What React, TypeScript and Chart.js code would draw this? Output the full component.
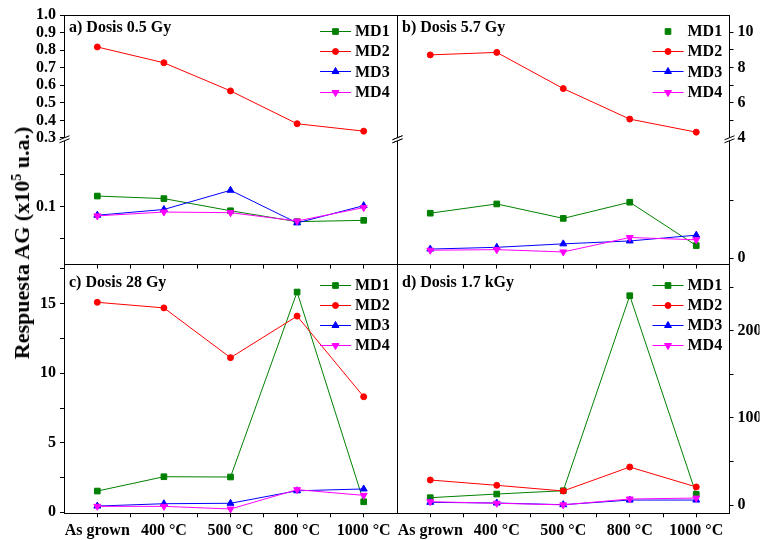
import React, { useEffect, useRef } from 'react';
import { Chart, registerables } from 'chart.js';
Chart.register(...registerables);

// ---------- data ----------
const categories = ['As grown', '400 °C', '500 °C', '800 °C', '1000 °C'];
const seriesNames = ['MD1', 'MD2', 'MD3', 'MD4'];

// a) Dosis 0.5 Gy
const aMD1 = [0.117, 0.113, 0.094, 0.077, 0.079];
const aMD2 = [0.818, 0.728, 0.568, 0.381, 0.339];
const aMD3 = [0.087, 0.096, 0.126, 0.075, 0.102];
const aMD4 = [0.086, 0.092, 0.091, 0.078, 0.099];

// b) Dosis 5.7 Gy
const bMD1 = [0.78, 0.94, 0.69, 0.97, 0.22];
const bMD2 = [8.72, 8.86, 6.81, 5.08, 4.34];
const bMD3 = [0.16, 0.19, 0.25, 0.3, 0.4];
const bMD4 = [0.14, 0.15, 0.11, 0.36, 0.32];

// c) Dosis 28 Gy
const cMD1 = [1.53, 2.56, 2.54, 15.84, 0.76];
const cMD2 = [15.1, 14.7, 11.12, 14.11, 8.31];
const cMD3 = [0.45, 0.62, 0.65, 1.55, 1.68];
const cMD4 = [0.43, 0.43, 0.24, 1.63, 1.22];

// d) Dosis 1.7 kGy
const dMD1 = [8.4, 12.6, 16.4, 240.2, 12.3];
const dMD2 = [28.7, 22.6, 16.1, 43.6, 20.7];
const dMD3 = [3.1, 2.3, 0.4, 5.7, 5.7];
const dMD4 = [3.8, 2.0, 0.2, 6.9, 8.0];

// ---------- ticks ----------
const xTicks = [0, 0.5, 1, 1.5, 2, 2.5, 3, 3.5, 4];
const aUpperTicks = [0.3, 0.4, 0.5, 0.6, 0.7, 0.8, 0.9, 1.0];
const aUpperLabels = ['0.3', '0.4', '0.5', '0.6', '0.7', '0.8', '0.9', '1.0'];
const aLowerTicks = [0.05, 0.1, 0.15];
const aLowerLabels = ['', '0.1', ''];
const bUpperTicks = [4, 5, 6, 7, 8, 9, 10];
const bUpperLabels = ['4', '', '6', '', '8', '', '10'];
const bLowerTicks = [0, 1];
const bLowerLabels = ['0', ''];
const cTicks = [0, 2.5, 5, 7.5, 10, 12.5, 15, 17.5];
const cLabels = ['0', '', '5', '', '10', '', '15', ''];
const dTicks = [0, 50, 100, 150, 200, 250];
const dLabels = ['0', '', '100', '', '200', ''];

// ---------- styles ----------
const colors = ['#008000', '#ff0000', '#0000ff', '#ff00ff'];
const pointStyles = ['rect', 'circle', 'triangle', 'triangle'];
const pointRots = [0, 0, 0, 180];
const pointRadii = [4, 3, 4, 4];
const FONT = '"Liberation Serif", "Times New Roman", serif';
const W = 761;
const H = 540;
const YW_LEFT = 60;
const YW_RIGHT = 30;
const XH = 26;

type Range = { min: number; max: number; ticks: number[]; labels: string[] };
type Panel = {
  key: string;
  rect: { l: number; t: number; r: number; b: number };
  side: 'left' | 'right';
  showX: boolean;
  title: string;
  titleDy: number;
  legendDy: number;
  legendLine: boolean[];
  series: number[][];
  upperSeries?: number;
  upper?: Range;
  lower?: Range;
  single?: Range;
};

const PANELS: Panel[] = [
  {
    key: 'a', rect: { l: 64, t: 15, r: 397, b: 264.5 }, side: 'left', showX: false,
    title: 'a) Dosis 0.5 Gy', titleDy: 17, legendDy: 16, legendLine: [true, true, true, true],
    series: [aMD1, aMD2, aMD3, aMD4], upperSeries: 1,
    upper: { min: 0.29, max: 1.0, ticks: aUpperTicks, labels: aUpperLabels },
    lower: { min: 0.01, max: 0.205, ticks: aLowerTicks, labels: aLowerLabels },
  },
  {
    key: 'b', rect: { l: 397, t: 15, r: 729.5, b: 264.5 }, side: 'right', showX: false,
    title: 'b) Dosis 5.7 Gy', titleDy: 17, legendDy: 16, legendLine: [false, true, true, true],
    series: [bMD1, bMD2, bMD3, bMD4], upperSeries: 1,
    upper: { min: 3.91, max: 10.98, ticks: bUpperTicks, labels: bUpperLabels },
    lower: { min: -0.107, max: 2.05, ticks: bLowerTicks, labels: bLowerLabels },
  },
  {
    key: 'c', rect: { l: 64, t: 264.5, r: 397, b: 513.3 }, side: 'left', showX: true,
    title: 'c) Dosis 28 Gy', titleDy: 22, legendDy: 20, legendLine: [true, true, true, true],
    series: [cMD1, cMD2, cMD3, cMD4],
    single: { min: -0.07, max: 17.82, ticks: cTicks, labels: cLabels },
  },
  {
    key: 'd', rect: { l: 397, t: 264.5, r: 729.5, b: 513.3 }, side: 'right', showX: true,
    title: 'd) Dosis 1.7 kGy', titleDy: 22, legendDy: 20, legendLine: [true, true, true, true],
    series: [dMD1, dMD2, dMD3, dMD4],
    single: { min: -9.5, max: 276, ticks: dTicks, labels: dLabels },
  },
];

function drawMarker(ctx: CanvasRenderingContext2D, i: number, x: number, y: number) {
  const r = pointRadii[i];
  ctx.save();
  ctx.fillStyle = colors[i];
  ctx.strokeStyle = colors[i];
  ctx.lineWidth = 1;
  ctx.beginPath();
  if (pointStyles[i] === 'rect') {
    const s = r * Math.SQRT1_2;
    ctx.rect(x - s, y - s, 2 * s, 2 * s);
  } else if (pointStyles[i] === 'circle') {
    ctx.arc(x, y, r, 0, Math.PI * 2);
  } else if (pointRots[i] === 180) {
    ctx.moveTo(x, y + r);
    ctx.lineTo(x - 0.866 * r, y - 0.5 * r);
    ctx.lineTo(x + 0.866 * r, y - 0.5 * r);
    ctx.closePath();
  } else {
    ctx.moveTo(x, y - r);
    ctx.lineTo(x + 0.866 * r, y + 0.5 * r);
    ctx.lineTo(x - 0.866 * r, y + 0.5 * r);
    ctx.closePath();
  }
  ctx.fill();
  ctx.stroke();
  ctx.restore();
}

function drawBreak(ctx: CanvasRenderingContext2D, x: number, y: number) {
  ctx.save();
  ctx.fillStyle = '#fff';
  ctx.beginPath();
  ctx.moveTo(x - 5, y);
  ctx.lineTo(x + 5, y - 4);
  ctx.lineTo(x + 5, y - 1);
  ctx.lineTo(x - 5, y + 3);
  ctx.closePath();
  ctx.fill();
  ctx.strokeStyle = '#000';
  ctx.lineWidth = 1;
  ctx.beginPath();
  ctx.moveTo(x - 5, y);
  ctx.lineTo(x + 5, y - 4);
  ctx.moveTo(x - 5, y + 3);
  ctx.lineTo(x + 5, y - 1);
  ctx.stroke();
  ctx.restore();
}

function decorPlugin(p: Panel) {
  const al = (v: number) => Math.floor(v) + 0.5;
  return {
    id: 'decor_' + p.key,
    beforeDatasetsDraw(chart: any) {
      const { left, top, right, bottom } = chart.chartArea;
      const ctx = chart.ctx as CanvasRenderingContext2D;
      ctx.save();
      ctx.strokeStyle = '#000';
      ctx.lineWidth = 1;
      ctx.strokeRect(al(left), al(top), al(right) - al(left), al(bottom) - al(top));
      ctx.restore();
    },
    afterDatasetsDraw(chart: any) {
      const { left, top, right } = chart.chartArea;
      const ctx = chart.ctx as CanvasRenderingContext2D;
      if (p.upper) {
        const yb = chart.scales.yU.bottom;
        drawBreak(ctx, al(left), yb);
        drawBreak(ctx, al(right), yb);
      }
      // title
      ctx.save();
      ctx.fillStyle = '#000';
      ctx.font = `bold 16px ${FONT}`;
      ctx.textBaseline = 'alphabetic';
      ctx.textAlign = 'left';
      ctx.fillText(p.title, left + 5, top + p.titleDy);
      // legend
      ctx.font = `bold 16px ${FONT}`;
      ctx.textBaseline = 'middle';
      seriesNames.forEach((name, i) => {
        const y = top + p.legendDy + i * 20.2;
        if (p.legendLine[i]) {
          ctx.strokeStyle = colors[i];
          ctx.lineWidth = 1;
          ctx.beginPath();
          ctx.moveTo(right - 77, Math.round(y) + 0.5);
          ctx.lineTo(right - 46, Math.round(y) + 0.5);
          ctx.stroke();
        }
        drawMarker(ctx, i, right - 61.5, Math.round(y) + 0.5);
        ctx.fillStyle = '#000';
        ctx.fillText(name, right - 42, y + 1);
      });
      ctx.restore();
    },
  };
}

function yScale(p: Panel, rg: Range, extra: any) {
  return {
    type: 'linear',
    position: p.side,
    min: rg.min,
    max: rg.max,
    afterBuildTicks: (s: any) => {
      s.ticks = rg.ticks.map((v) => ({ value: v }));
    },
    afterFit: (s: any) => {
      s.width = p.side === 'left' ? YW_LEFT : YW_RIGHT;
    },
    ticks: {
      autoSkip: false,
      color: '#000',
      padding: 4,
      font: { family: FONT, size: 16, weight: 'bold' },
      callback: (_v: any, i: number) => rg.labels[i] ?? '',
    },
    grid: { drawOnChartArea: false, drawTicks: true, tickLength: 4, color: '#000', lineWidth: 1 },
    border: { display: false },
    ...extra,
  };
}

function makeConfig(p: Panel): any {
  const scales: any = {
    x: {
      type: 'linear',
      position: 'bottom',
      min: -0.5,
      max: 4.5,
      afterBuildTicks: (s: any) => {
        s.ticks = xTicks.map((v) => ({ value: v }));
      },
      afterFit: (s: any) => {
        s.height = XH;
      },
      ticks: {
        autoSkip: false,
        maxRotation: 0,
        minRotation: 0,
        color: '#000',
        padding: 4,
        font: { family: FONT, size: 16, weight: 'bold' },
        callback: (v: any) => (p.showX && Number.isInteger(v) ? categories[v] : ''),
      },
      grid: { drawOnChartArea: false, drawTicks: true, tickLength: 4, color: '#000', lineWidth: 1 },
      border: { display: false },
    },
  };
  if (p.upper && p.lower) {
    const left = p.side === 'left';
    scales.yU = yScale(p, p.upper, { stack: 'brk', stackWeight: 1, weight: left ? 1 : 0 });
    scales.yL = yScale(p, p.lower, { stack: 'brk', stackWeight: 1, weight: left ? 0 : 1 });
  } else if (p.single) {
    scales.y = yScale(p, p.single, {});
  }
  const datasets = p.series.map((vals, i) => ({
    label: seriesNames[i],
    data: vals.map((v, k) => ({ x: k, y: v })),
    yAxisID: p.upper ? (i === p.upperSeries ? 'yU' : 'yL') : 'y',
    borderColor: colors[i],
    backgroundColor: colors[i],
    borderWidth: 1,
    pointStyle: pointStyles[i],
    pointRotation: pointRots[i],
    pointRadius: pointRadii[i],
    pointBorderWidth: 1,
    pointBorderColor: colors[i],
    pointBackgroundColor: colors[i],
    tension: 0,
    clip: false,
    order: 3 - i,
  }));
  const pad =
    p.side === 'left'
      ? { left: p.rect.l - YW_LEFT, right: W - p.rect.r, top: p.rect.t, bottom: H - p.rect.b - XH }
      : { left: p.rect.l, right: W - p.rect.r - YW_RIGHT, top: p.rect.t, bottom: H - p.rect.b - XH };
  return {
    type: 'line',
    data: { datasets },
    options: {
      responsive: false,
      maintainAspectRatio: false,
      animation: false,
      devicePixelRatio: 1,
      events: [],
      layout: { padding: pad },
      plugins: { legend: { display: false }, tooltip: { enabled: false }, title: { display: false } },
      scales,
    },
    plugins: [decorPlugin(p)],
  };
}

export default function App() {
  const refs = useRef<(HTMLCanvasElement | null)[]>([]);
  useEffect(() => {
    const charts = PANELS.map((p, i) => new Chart(refs.current[i] as HTMLCanvasElement, makeConfig(p)));
    return () => charts.forEach((c) => c.destroy());
  }, []);
  return (
    <div style={{ position: 'absolute', left: 0, top: 0, width: W, height: H, background: '#fff', overflow: 'hidden' }}>
      {PANELS.map((p, i) => (
        <canvas
          key={p.key}
          ref={(el) => {
            refs.current[i] = el;
          }}
          width={W}
          height={H}
          style={{ position: 'absolute', left: 0, top: 0, width: W, height: H }}
        />
      ))}
      <div
        style={{
          position: 'absolute',
          left: 22,
          top: 243,
          transform: 'translate(-50%, -50%) rotate(-90deg)',
          whiteSpace: 'nowrap',
          font: `bold 22px ${FONT}`,
          lineHeight: '24px',
          color: '#000',
        }}
      >
        Respuesta AG (x10<sup style={{ fontSize: '14px', lineHeight: 0, verticalAlign: 'super' }}>5</sup> u.a.)
      </div>
    </div>
  );
}
